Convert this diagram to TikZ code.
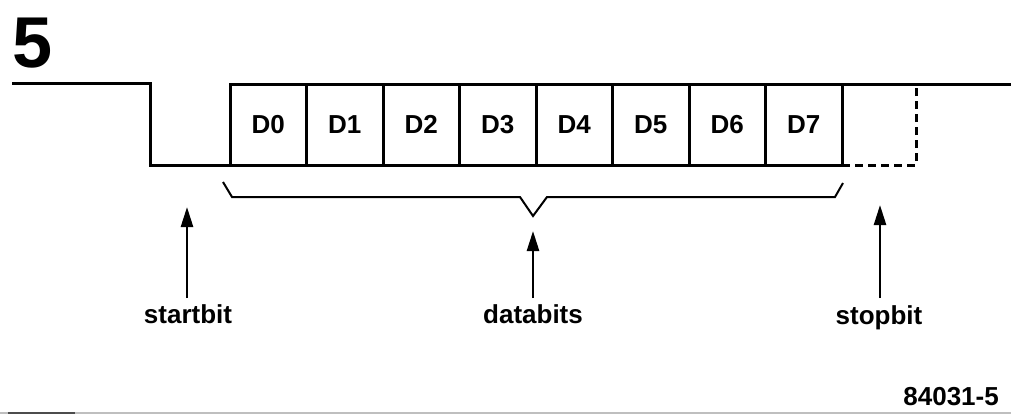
\documentclass[tikz,border=0pt]{standalone}
\usepackage{fontspec}
\setmainfont{Liberation Sans}
\usetikzlibrary{arrows.meta}
\tikzset{
  sig/.style={line width=3pt, line join=miter},
  bitbox/.style={draw, line width=3pt, outer sep=0pt, minimum width=76.5pt, minimum height=81pt, inner sep=0pt, font=\fontsize{26}{26}\selectfont\bfseries},
  stopdash/.style={line width=3pt, dash pattern=on 8pt off 5pt},
  bracel/.style={line width=2pt, line join=miter},
  uparrow/.style={line width=2.5pt, -{Triangle[length=20pt,width=12pt]}},
  lbl/.style={font=\fontsize{26}{26}\selectfont\bfseries, inner sep=0pt, anchor=base},
}
\begin{document}
\begin{tikzpicture}[x=1pt,y=-1pt]
\useasboundingbox (0,0) rectangle (1011,415);
% figure number
\node[font=\fontsize{72}{72}\selectfont\bfseries, inner sep=0pt, anchor=base] (fig) at (33,67) {5};
% signal line
\coordinate (s0) at (12,83);
\coordinate (s1) at (150,83);
\coordinate (s2) at (150,165);
\coordinate (s3) at (230,165);
\draw[sig] (s0) -- (s1) -- (s2) -- (s3);
% data boxes
\foreach \i in {0,...,7} {
  \node[bitbox] (d\i) at ({230+76.5*\i+38.25},124.5) {D\i};
}
% line after data bits
\coordinate (e0) at (1011,84);
\draw[sig] (d7.north east) -- (e0);
% dashed stop bit
\coordinate (p1) at (916,165);
\coordinate (p2) at (916,84);
\draw[stopdash] (d7.south east) -- (p1) -- (p2);
% brace
\coordinate (b0) at (223,182);
\coordinate (b1) at (232,197);
\coordinate (b2) at (520,197);
\coordinate (b3) at (533,216);
\coordinate (b4) at (547,197);
\coordinate (b5) at (835,197);
\coordinate (b6) at (843,183);
\draw[bracel] (b0) -- (b1) -- (b2) -- (b3) -- (b4) -- (b5) -- (b6);
% labels and arrows
\node[lbl] (start) at (188,323) {startbit};
\node[lbl] (data) at (533,323) {databits};
\node[lbl] (stop) at (879,324) {stopbit};
\coordinate (ta) at (187,207);
\coordinate (tb) at (533,231);
\coordinate (tc) at (880,205);
\draw[uparrow] (187,298) -- (ta);
\draw[uparrow] (533,298) -- (tb);
\draw[uparrow] (880,298) -- (tc);
% figure code
\node[font=\fontsize{26}{26}\selectfont\bfseries, inner sep=0pt, anchor=base east] (code) at (999,405) {84031-5};
% bottom rule (scan edge)
\coordinate (r0) at (0,413);
\coordinate (r1) at (1011,413);
\coordinate (r2) at (8,413);
\coordinate (r3) at (75,413);
\draw[line width=1.5pt, black!25] (r0) -- (r1);
\draw[line width=2pt, black!70] (r2) -- (r3);
\end{tikzpicture}
\end{document}
